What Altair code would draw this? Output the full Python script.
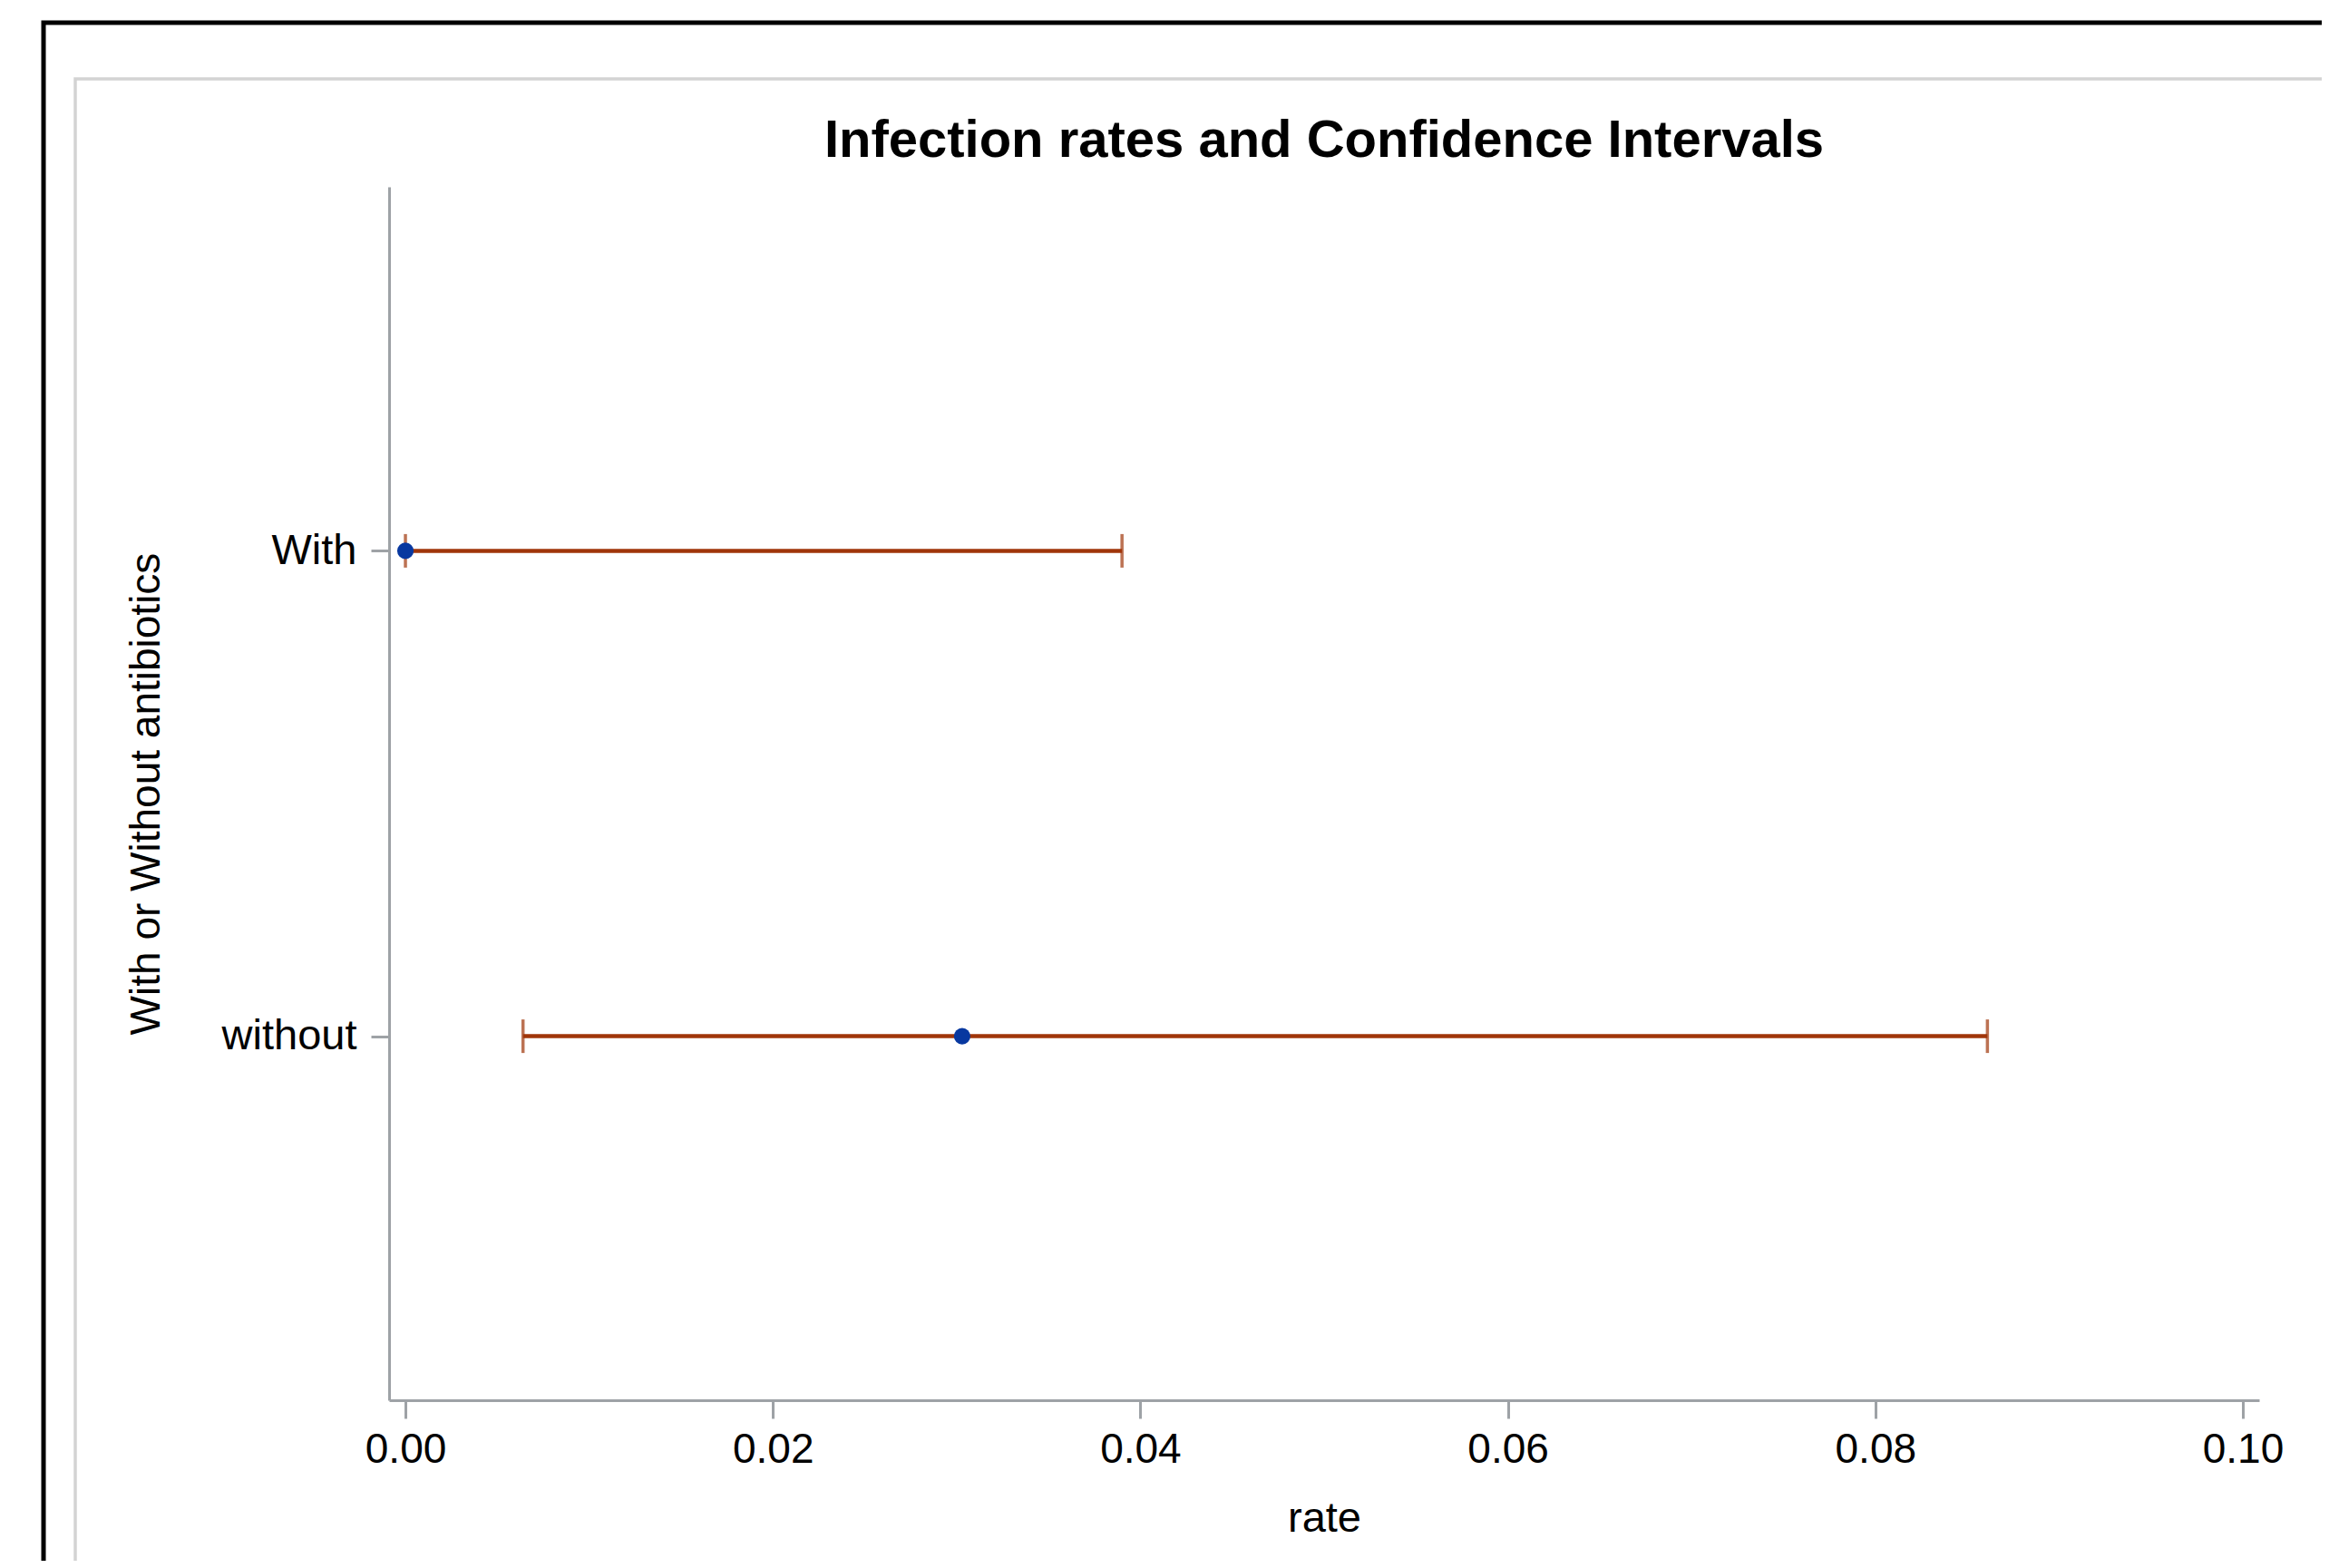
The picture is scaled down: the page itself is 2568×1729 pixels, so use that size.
import altair as alt
import pandas as pd

# ---- data ----
groups = ["With", "without"]
rates = [0.0, 0.0303]
lower = [0.0, 0.0064]
upper = [0.039, 0.0861]
x_ticks = [0.0, 0.02, 0.04, 0.06, 0.08, 0.10]

df = pd.DataFrame({"group": groups, "rate": rates, "lower": lower, "upper": upper})

W, H = 2062, 1338
AXIS = "#9ea2a6"
ERR = "#a0360a"
DOT = "#0838a0"
FONT = "Liberation Sans"

xscale = alt.Scale(domain=[-0.00089, 0.10089], nice=False, zero=False)
yscale = alt.Scale(type="point", padding=0.75, domain=groups)

xaxis = alt.Axis(
    values=x_ticks, format=".2f", grid=False,
    labelFont=FONT, labelFontSize=46, labelColor="black", labelPadding=12, labelFlush=False,
    tickSize=20, tickWidth=3, tickColor=AXIS, domainColor=AXIS, domainWidth=3,
    titleFont=FONT, titleFontSize=47, titleFontWeight="normal", titleColor="black",
    titleX=W / 2, titleY=144, titleBaseline="alphabetic", titleAlign="center",
)
yaxis = alt.Axis(
    grid=False,
    labelFont=FONT, labelFontSize=47, labelColor="black", labelPadding=16,
    tickSize=20, tickWidth=3, tickColor=AXIS, domainColor=AXIS, domainWidth=3,
    titleFont=FONT, titleFontSize=46, titleFontWeight="normal", titleColor="black",
    titleAngle=270, titleX=-254, titleY=H / 2, titleBaseline="alphabetic", titleAlign="center",
)

XT = "rate"
YT = "With or Without antibiotics"

base = alt.Chart(df)

rule = base.mark_rule(color=ERR, strokeWidth=4.5).encode(
    x=alt.X("lower:Q", scale=xscale, axis=xaxis, title=XT),
    x2="upper:Q",
    y=alt.Y("group:N", scale=yscale, axis=yaxis, title=YT, sort=groups),
)
cap_lo = base.mark_tick(color=ERR, size=37, thickness=3.5).encode(
    x=alt.X("lower:Q", scale=xscale, title=XT),
    y=alt.Y("group:N", scale=yscale, title=YT, sort=groups),
)
cap_hi = base.mark_tick(color=ERR, size=37, thickness=3.5).encode(
    x=alt.X("upper:Q", scale=xscale, title=XT),
    y=alt.Y("group:N", scale=yscale, title=YT, sort=groups),
)
dots = base.mark_circle(color=DOT, size=330, opacity=1).encode(
    x=alt.X("rate:Q", scale=xscale, title=XT),
    y=alt.Y("group:N", scale=yscale, title=YT, sort=groups),
)

one = alt.Data(values=[{"k": 1}])
outer = alt.Chart(one).mark_rect(fill="white", fillOpacity=0, stroke="black", strokeWidth=5).encode(
    x=alt.value(-381), x2=alt.value(2400), y=alt.value(-181), y2=alt.value(1700)
)
inner = alt.Chart(one).mark_rect(fill="white", fillOpacity=0, stroke="#d3d3d3", strokeWidth=3.5).encode(
    x=alt.value(-346), x2=alt.value(2134), y=alt.value(-119), y2=alt.value(1680)
)
title = alt.Chart(one).mark_text(
    text="Infection rates and Confidence Intervals", font=FONT, fontSize=58,
    fontWeight="bold", align="center", baseline="alphabetic", color="black",
).encode(x=alt.value(W / 2), y=alt.value(-33))

chart = alt.layer(outer, inner, title, rule, cap_lo, cap_hi, dots).properties(
    width=W, height=H,
    autosize=alt.AutoSizeParams(type="none"),
    padding={"left": 421, "top": 198, "right": 69, "bottom": 177},
    background="white",
).configure_view(strokeWidth=0)

chart.save("out.html", embed_options={"renderer": "svg", "actions": False})
